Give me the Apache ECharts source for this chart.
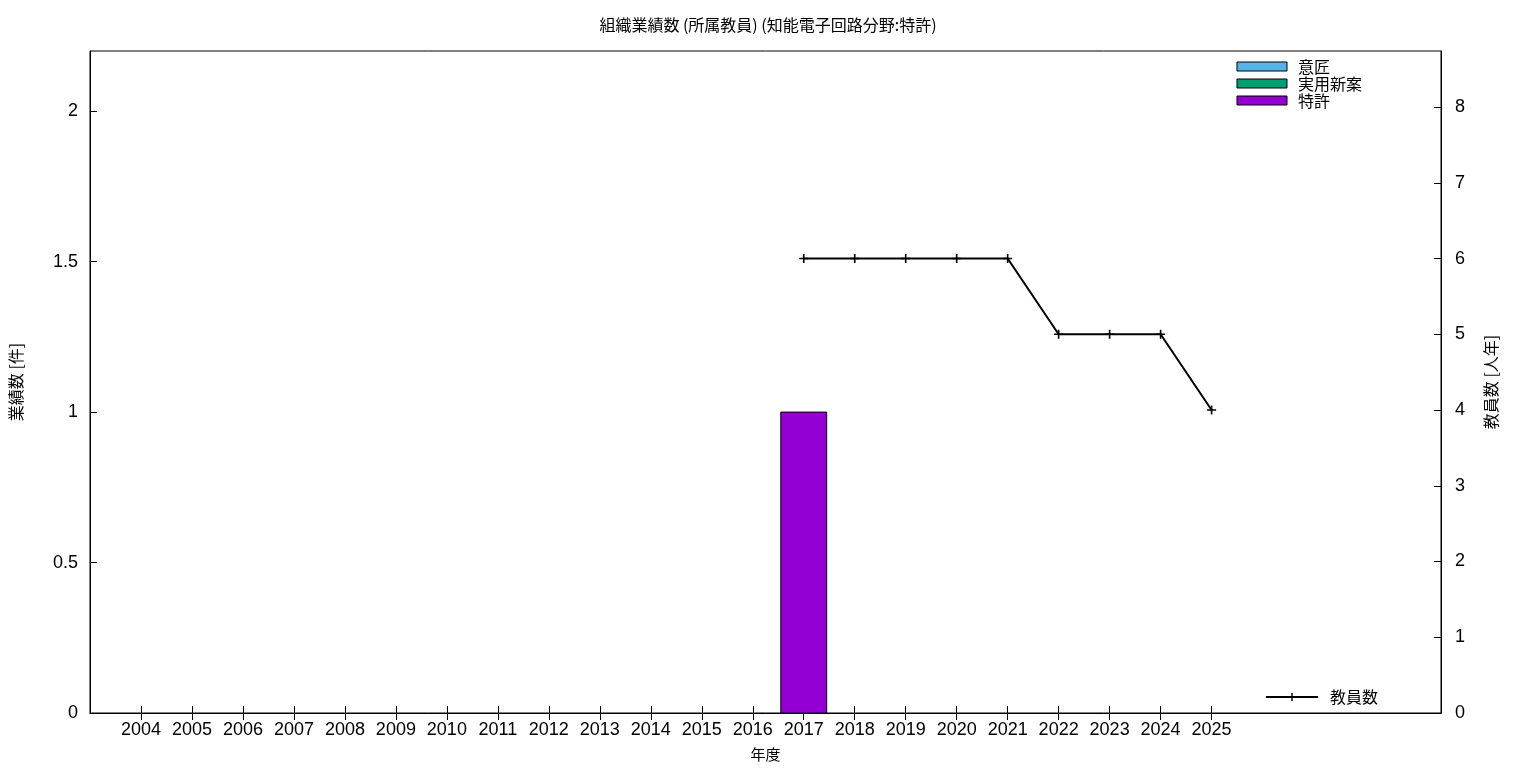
<!DOCTYPE html>
<html>
<head>
<meta charset="utf-8">
<script src="https://cdn.jsdelivr.net/npm/echarts@6/dist/echarts.min.js"></script>
<style>
html,body{margin:0;padding:0;background:#fff;}
#chart{width:1536px;height:768px;}
</style>
</head>
<body>
<div id="chart"></div>
<script>
var years = [2004,2005,2006,2007,2008,2009,2010,2011,2012,2013,2014,2015,2016,2017,2018,2019,2020,2021,2022,2023,2024,2025];
var design  = [0,0,0,0,0,0,0,0,0,0,0,0,0,0,0,0,0,0,0,0,0,0];
var utility = [0,0,0,0,0,0,0,0,0,0,0,0,0,0,0,0,0,0,0,0,0,0];
var patent  = [0,0,0,0,0,0,0,0,0,0,0,0,0,1,0,0,0,0,0,0,0,0];
var staffYears = [2017,2018,2019,2020,2021,2022,2023,2024,2025];
var staff = [6,6,6,6,6,5,5,5,4];
var leftTicks = [0,0.5,1,1.5,2];
var rightTicks = [0,1,2,3,4,5,6,7,8];

var FONT = "'Liberation Sans','Noto Sans CJK JP',sans-serif";
var CJK = "'Noto Sans CJK JP',sans-serif";

var stackSeries = [
  {name:'意匠', data:design, color:'#56b4e9'},
  {name:'実用新案', data:utility, color:'#009e73'},
  {name:'特許', data:patent, color:'#9400d3'}
];

function makeBar(idx){
  var s = stackSeries[idx];
  var d = years.map(function(y,i){
    var base = 0;
    for (var k=0;k<idx;k++) base += stackSeries[k].data[i];
    return [y, base, base + s.data[i]];
  });
  return {
    type:'custom', name:s.name, xAxisIndex:0, yAxisIndex:0,
    data:d,
    itemStyle:{color:s.color, borderColor:'#000', borderWidth:1},
    encode:{x:0, y:[1,2]},
    renderItem:function(params, api){
      var x = api.value(0), b = api.value(1), t = api.value(2);
      if (t - b <= 0) return null;
      var p0 = api.coord([x - 0.45, t]);
      var p1 = api.coord([x + 0.45, b]);
      return {
        type:'rect',
        shape:{x:p0[0], y:p0[1], width:p1[0]-p0[0], height:p1[1]-p0[1]},
        style:{fill:s.color, stroke:'#000', lineWidth:1}
      };
    },
    z:2
  };
}

var plusPath = 'path://M4.1,0H5.9V10H4.1ZM0,4.1H10V5.9H0Z';

var option = {
  backgroundColor:'#fff',
  animation:false,
  title:{
    text:'組織業績数 (所属教員) (知能電子回路分野:特許)',
    left:'center', top:12,
    textStyle:{fontFamily:CJK, fontSize:16, fontWeight:'normal', color:'#000'}
  },
  grid:{left:88, right:95, top:51, bottom:55, show:true, borderColor:'#000', borderWidth:1, backgroundColor:'transparent'},
  legend:[
    {
      right:174, top:58, padding:0, orient:'vertical', itemWidth:50, itemHeight:9, itemGap:0,
      textStyle:{fontFamily:CJK, fontSize:16, lineHeight:17, color:'#000', padding:[0,0,0,6]},
      data:stackSeries.map(function(s){
        return {name:s.name, icon:'rect', itemStyle:{color:s.color, borderColor:'#000', borderWidth:1}};
      })
    },
    {
      right:158, top:688, padding:0, orient:'vertical', itemWidth:52, itemHeight:10,
      textStyle:{fontFamily:CJK, fontSize:16, lineHeight:18, color:'#000', padding:[0,0,0,7]},
      data:[{name:'教員数'}]
    }
  ],
  xAxis:[
    {
      type:'value', min:2003, max:2029.5, interval:1, position:'bottom',
      name:'年度', nameLocation:'middle', nameGap:34,
      nameTextStyle:{fontFamily:CJK, fontSize:15, color:'#000'},
      axisLine:{show:true, lineStyle:{color:'#000', width:1}},
      axisTick:{show:true, inside:true, length:7, customValues:years, lineStyle:{color:'#000'}},
      axisLabel:{show:true, customValues:years, fontFamily:FONT, fontSize:18, color:'#000', margin:8, formatter:function(v){return String(v);}},
      splitLine:{show:false}
    },
    {
      type:'value', min:2003, max:2029.5, interval:1, position:'top',
      axisLine:{show:true, lineStyle:{color:'#000', width:1}},
      axisTick:{show:true, inside:true, length:7, customValues:years, lineStyle:{color:'#000'}},
      axisLabel:{show:false},
      splitLine:{show:false}
    }
  ],
  yAxis:[
    {
      type:'value', min:0, max:2.2, interval:0.5, position:'left',
      name:'業績数 [件]', nameLocation:'middle', nameGap:66, nameRotate:90,
      nameTextStyle:{fontFamily:CJK, fontSize:16, color:'#000'},
      axisLine:{show:true, lineStyle:{color:'#000', width:1}},
      axisTick:{show:true, inside:true, length:7, customValues:leftTicks, lineStyle:{color:'#000'}},
      axisLabel:{customValues:leftTicks, fontFamily:FONT, fontSize:18, color:'#000', margin:12,
        formatter:function(v){return String(v);}},
      splitLine:{show:false}
    },
    {
      type:'value', min:0, max:8.74, interval:1, position:'right',
      name:'教員数 [人年]', nameLocation:'middle', nameGap:42, nameRotate:90,
      nameTextStyle:{fontFamily:CJK, fontSize:16, color:'#000'},
      axisLine:{show:true, lineStyle:{color:'#000', width:1}},
      axisTick:{show:true, inside:true, length:7, customValues:rightTicks, lineStyle:{color:'#000'}},
      axisLabel:{customValues:rightTicks, fontFamily:FONT, fontSize:18, color:'#000', margin:14,
        formatter:function(v){return String(v);}},
      splitLine:{show:false}
    }
  ],
  series:[
    makeBar(0), makeBar(1), makeBar(2),
    {
      type:'line', name:'教員数', xAxisIndex:0, yAxisIndex:1,
      data:staffYears.map(function(y,i){return [y, staff[i]];}),
      symbol:plusPath, symbolSize:9, showSymbol:true,
      lineStyle:{color:'#000', width:2},
      itemStyle:{color:'#000'},
      z:3
    }
  ]
};

var chart = echarts.init(document.getElementById('chart'), null, {renderer:'canvas'});
chart.setOption(option);
</script>
</body>
</html>
